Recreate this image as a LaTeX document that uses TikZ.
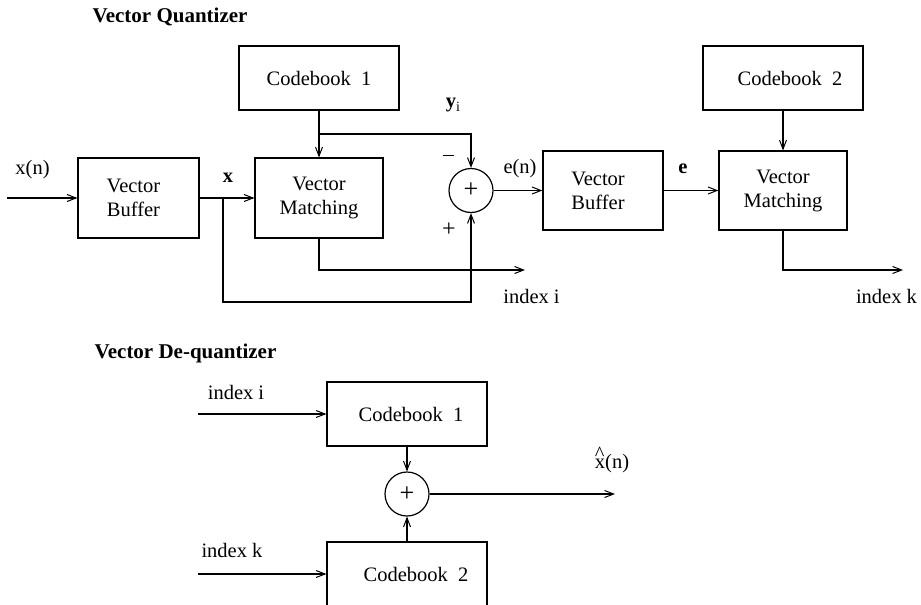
\documentclass[tikz,border=0pt]{standalone}
\usepackage{fontspec}
\setmainfont{Liberation Serif}
\usetikzlibrary{arrows.meta}
\begin{document}
\begin{tikzpicture}[x=1pt,y=-1pt,
  font=\fontsize{20.5}{24}\selectfont,
  line width=1.2pt,
  arr/.style={-{Straight Barb[length=9pt,width=7pt,line width=1pt]}},
  blk/.style={draw,rectangle,inner sep=0pt,align=center},
  sumnode/.style={draw,circle,minimum size=44pt,inner sep=0pt,font=\fontsize{26}{28}\selectfont},
  lbl/.style={inner sep=0pt},
  ttl/.style={inner sep=0pt,anchor=west,font=\fontsize{21}{24}\selectfont\bfseries}]
\useasboundingbox (0,0) rectangle (921,605);

% ---------- Vector Quantizer ----------
\node[ttl] (t1) at (92,17) {Vector Quantizer};

\node[blk,minimum width=160pt,minimum height=64pt] (cb1) at (319,78) {Codebook~~1};
\node[blk,minimum width=121pt,minimum height=80pt] (vb1) at (138.5,198) {\hspace*{-10pt}Vector\\\hspace*{-10pt}Buffer};
\node[blk,minimum width=128pt,minimum height=80pt] (vm1) at (319,198) {Vector\\Matching};
\node[sumnode] (s1) at (471,190.5) {+};
\node[blk,minimum width=120pt,minimum height=79pt] (vb2) at (603,190.5) {\hspace*{-10pt}Vector\\\hspace*{-10pt}Buffer};
\node[blk,minimum width=128pt,minimum height=79pt] (vm2) at (783,190.5) {Vector\\Matching};
\node[blk,minimum width=160pt,minimum height=64pt] (cb2) at (783,78) {\hspace*{14pt}Codebook~~2};

\coordinate (in1) at (7,198);
\coordinate (bx) at (223,198);
\coordinate (b1) at (223,302);
\coordinate (yb) at (319,134);
\coordinate (o1) at (525,270);
\coordinate (o2) at (903,270);

\draw[arr] (in1) -- (vb1.west);
\draw[arr] (vb1.east) -- (vm1.west);
\draw[arr] (bx) -- (b1) -| (s1.south);
\draw[arr] (cb1.south) -- (vm1.north);
\draw[arr] (yb) -| (s1.north);
\draw[arr] (vm1.south) |- (o1);
\draw[arr] (s1.east) -- (vb2.west);
\draw[arr] (vb2.east) -- (vm2.west);
\draw[arr] (cb2.south) -- (vm2.north);
\draw[arr] (vm2.south) |- (o2);

\node[lbl] (lx) at (32.5,170) {x(n)};
\node[lbl] (lxb) at (228,178) {\textbf{x}};
\node[lbl] (ly) at (453,105) {\textbf{y}\raisebox{-0.2em}{\fontsize{14}{16}\selectfont i}};
\node[lbl] (lm) at (448,156) {\raisebox{0.1em}{\rule{11pt}{0.9pt}}};
\node[lbl,font=\fontsize{24}{26}\selectfont] (lp) at (449,230) {+};
\node[lbl] (le) at (520,169) {e(n)};
\node[lbl] (leb) at (683,169) {\textbf{e}};
\node[lbl] (li) at (531.5,296) {index i};
\node[lbl] (lk) at (886.5,296) {index k};

% ---------- Vector De-quantizer ----------
\node[ttl] (t2) at (94,353) {Vector De-quantizer};

\node[blk,minimum width=160pt,minimum height=64pt] (d1) at (407,414) {\hspace*{8pt}Codebook~~1};
\node[sumnode] (s2) at (407,494) {+};
\node[blk,minimum width=160pt,minimum height=64pt] (d2) at (407,574) {\hspace*{18pt}Codebook~~2};

\coordinate (ii) at (198,414);
\coordinate (ik) at (198,574);
\coordinate (xo) at (615,494);

\draw[arr] (ii) -- (d1.west);
\draw[arr] (ik) -- (d2.west);
\draw[arr] (d1.south) -- (s2.north);
\draw[arr] (d2.north) -- (s2.south);
\draw[arr] (s2.east) -- (xo);

\node[lbl] (lii) at (236,392) {index i};
\node[lbl] (lik) at (232,550) {index k};
\node[lbl] (lxh) at (612,460) {\makebox[0pt][l]{\raisebox{0.35em}{\textasciicircum}}x(n)};
\end{tikzpicture}
\end{document}
